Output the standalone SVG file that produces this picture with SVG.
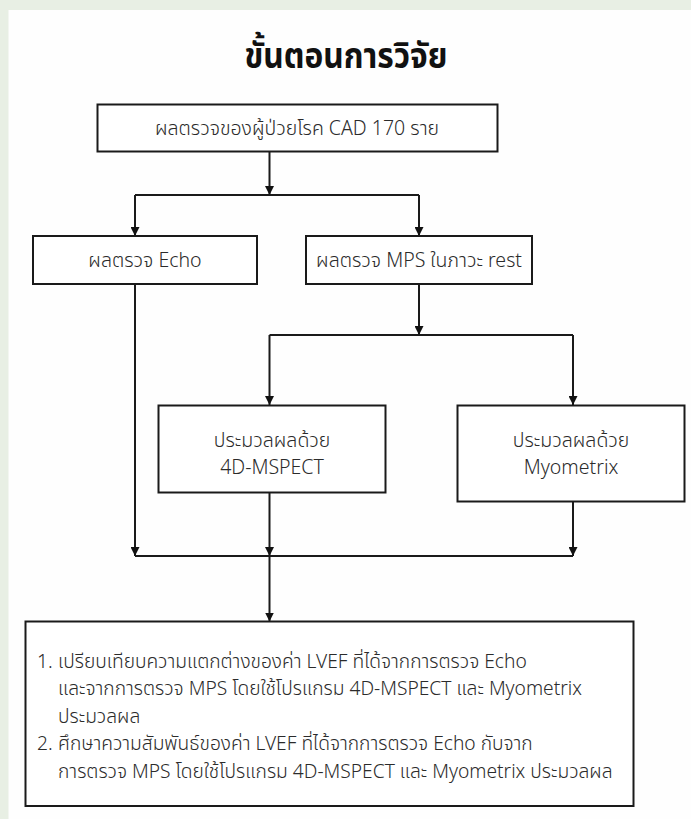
<svg xmlns="http://www.w3.org/2000/svg" width="691" height="819" viewBox="0 0 691 819">
  <defs>
    <marker id="arr" viewBox="0 0 10 10" refX="10" refY="5" markerWidth="9" markerHeight="9" markerUnits="userSpaceOnUse" orient="auto">
      <path d="M0,0 L10,5 L0,10 z" fill="#111"/>
    </marker>
    <style>
      .box { fill: #ffffff; stroke: #1a1a1a; stroke-width: 2; }
      .conn { fill: none; stroke: #1a1a1a; stroke-width: 2; }
      .lbl { font-family: "Noto Sans", "Noto Sans Thai", "DejaVu Sans", sans-serif; font-size: 19.5px; fill: #2b2b2b; font-weight: 300; }
      .body { font-size: 19.2px; }
      .mid { text-anchor: middle; }
      .title { font-family: "Noto Sans", "Noto Sans Thai", "DejaVu Sans", sans-serif; font-size: 36px; font-weight: bold; fill: #111; text-anchor: middle; }
    </style>
  </defs>
  <rect x="0" y="0" width="691" height="819" fill="#e8efe4"/>
  <rect x="8.5" y="10" width="682.5" height="809" fill="#fefefe"/>

  <text class="title" x="346" y="68" textLength="203" lengthAdjust="spacingAndGlyphs">ขั้นตอนการวิจัย</text>

  <g id="connectors">
    <path class="conn" d="M269.5,152 V195" marker-end="url(#arr)"/>
    <path class="conn" d="M135,195 H419"/>
    <path class="conn" d="M135,195 V236" marker-end="url(#arr)"/>
    <path class="conn" d="M419,195 V236" marker-end="url(#arr)"/>
    <path class="conn" d="M419,284 V335" marker-end="url(#arr)"/>
    <path class="conn" d="M269.5,335 H573"/>
    <path class="conn" d="M269.5,335 V405" marker-end="url(#arr)"/>
    <path class="conn" d="M573,335 V405" marker-end="url(#arr)"/>
    <path class="conn" d="M135,284 V556" marker-end="url(#arr)"/>
    <path class="conn" d="M269.5,493 V556" marker-end="url(#arr)"/>
    <path class="conn" d="M573,502 V556" marker-end="url(#arr)"/>
    <path class="conn" d="M135,556 H573"/>
    <path class="conn" d="M269.5,556 V621.5" marker-end="url(#arr)"/>
  </g>

  <g id="node-patients">
    <rect class="box" x="97.5" y="104.5" width="400" height="47"/>
    <text class="lbl mid" x="297" y="135">ผลตรวจของผู้ป่วยโรค CAD 170 ราย</text>
  </g>

  <g id="node-echo">
    <rect class="box" x="33" y="236" width="224" height="48"/>
    <text class="lbl mid" x="145" y="267">ผลตรวจ Echo</text>
  </g>

  <g id="node-mps">
    <rect class="box" x="306" y="236" width="226" height="48"/>
    <text class="lbl mid" x="419" y="267">ผลตรวจ MPS ในภาวะ rest</text>
  </g>

  <g id="node-4dmspect">
    <rect class="box" x="158.5" y="405.5" width="227" height="87"/>
    <text class="lbl mid" x="272" y="447">ประมวลผลด้วย</text>
    <text class="lbl mid" x="272" y="474">4D-MSPECT</text>
  </g>

  <g id="node-myometrix">
    <rect class="box" x="457.5" y="405.5" width="227" height="96"/>
    <text class="lbl mid" x="571" y="447">ประมวลผลด้วย</text>
    <text class="lbl mid" x="571" y="474">Myometrix</text>
  </g>

  <g id="node-results">
    <rect class="box" x="25.5" y="621.5" width="608" height="184.5"/>
    <text class="lbl body" x="37" y="668">1.</text>
    <text class="lbl body" x="58" y="668">เปรียบเทียบความแตกต่างของค่า LVEF ที่ได้จากการตรวจ Echo</text>
    <text class="lbl body" x="58" y="695">และจากการตรวจ MPS โดยใช้โปรแกรม 4D-MSPECT และ Myometrix</text>
    <text class="lbl body" x="58" y="723">ประมวลผล</text>
    <text class="lbl body" x="37" y="750">2.</text>
    <text class="lbl body" x="58" y="750">ศึกษาความสัมพันธ์ของค่า LVEF ที่ได้จากการตรวจ Echo กับจาก</text>
    <text class="lbl body" x="58" y="778">การตรวจ MPS โดยใช้โปรแกรม 4D-MSPECT และ Myometrix ประมวลผล</text>
  </g>
</svg>
